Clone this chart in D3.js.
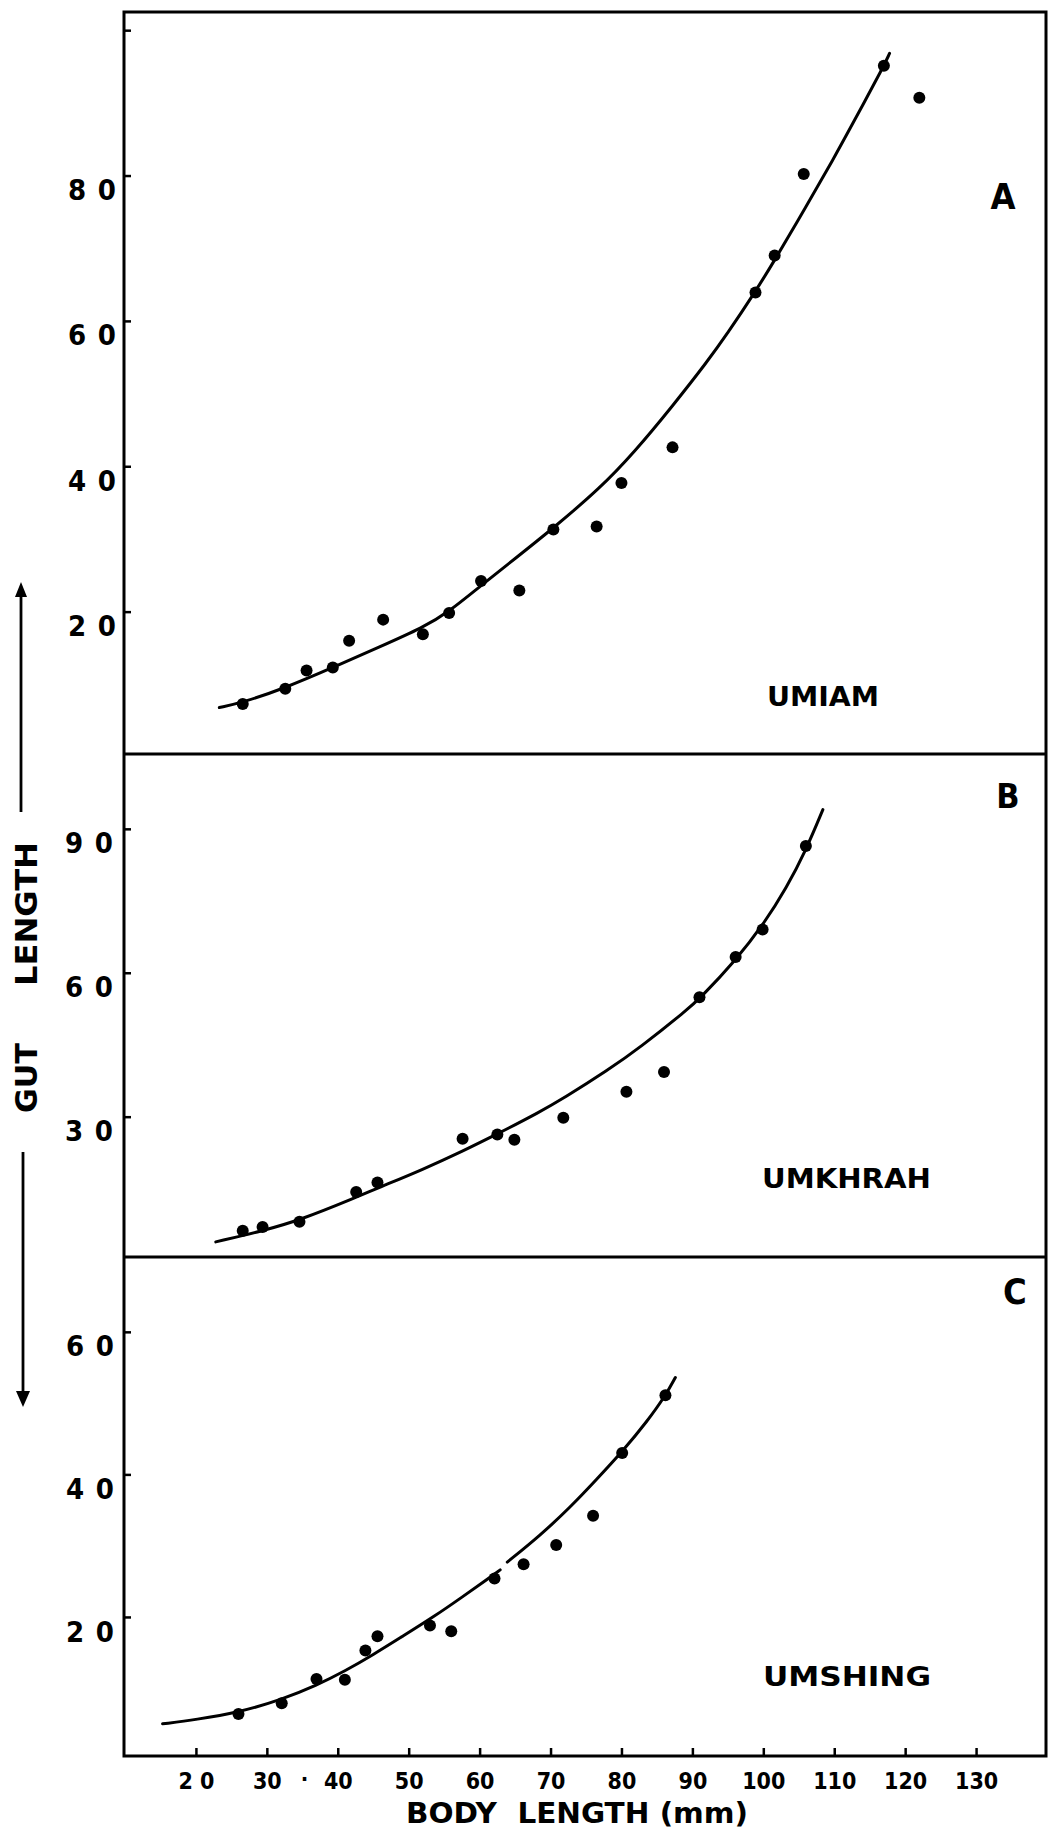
<!DOCTYPE html>
<html>
<head>
<meta charset="utf-8">
<script src="https://cdn.jsdelivr.net/npm/d3@7"></script>
<style>
  body { margin: 0; background: #fff; }
  svg text { font-family: "DejaVu Sans Condensed", "DejaVu Sans", sans-serif; font-weight: bold; fill: #000; }
</style>
</head>
<body>
<svg id="chart" width="1050" height="1834"></svg>
<script>
// ---------------- DATA ----------------
const xTicks = [20, 30, 40, 50, 60, 70, 80, 90, 100, 110, 120, 130];
const xTickLabels = ["2 0", "30", "40", "50", "60", "70", "80", "90", "100", "110", "120", "130"];

// Panel A : UMIAM
const umiamYTicks = [20, 40, 60, 80, 100];
const umiamYTickLabels = ["2 0", "4 0", "6 0", "8 0", ""];
const umiamPoints = [
  [26.6, 7.3], [32.6, 9.4], [35.6, 11.9], [39.3, 12.3], [41.6, 16.0], [46.4, 18.9],
  [52.0, 16.9], [55.7, 19.8], [60.2, 24.2], [65.6, 22.9], [70.4, 31.3], [76.5, 31.7],
  [80.0, 37.7], [87.2, 42.6], [98.9, 63.9], [101.6, 69.0], [105.7, 80.2], [117.0, 95.1],
  [122.0, 90.7]
];
const umiamCurve = [
  [23.3, 6.8], [26.6, 7.5], [32.6, 9.5], [39.3, 12.3], [46.0, 15.2], [52.0, 17.8],
  [55.7, 20.0], [60.2, 23.6], [65.0, 27.3], [70.4, 31.5], [77.0, 37.0], [81.7, 41.8],
  [87.3, 48.4], [92.1, 54.4], [94.9, 58.2], [98.8, 63.9], [101.7, 68.5], [106.2, 76.0],
  [109.9, 82.3], [112.7, 87.3], [117.0, 95.1], [117.8, 96.8]
];

// Panel B : UMKHRAH
const umkhrahYTicks = [30, 60, 90];
const umkhrahYTickLabels = ["3 0", "6 0", "9 0"];
const umkhrahPoints = [
  [26.6, 6.2], [29.4, 7.0], [34.6, 8.1], [42.6, 14.3], [45.6, 16.3], [57.6, 25.4],
  [62.5, 26.3], [64.9, 25.2], [71.8, 29.8], [80.7, 35.2], [86.0, 39.3], [91.0, 54.9],
  [96.1, 63.3], [99.9, 69.0], [106.0, 86.4]
];
const umkhrahCurve = [
  [22.8, 3.9], [29.4, 6.2], [34.6, 8.4], [42.6, 13.2], [45.6, 15.1], [52.0, 19.0],
  [57.6, 22.8], [62.5, 26.4], [68.5, 31.0], [71.8, 33.8], [78.0, 39.6], [82.7, 44.5],
  [89.2, 52.2], [91.1, 54.7], [96.1, 62.6], [100.0, 70.0], [103.3, 77.8], [106.0, 85.5],
  [108.4, 94.0]
];

// Panel C : UMSHING
const umshingYTicks = [20, 40, 60];
const umshingYTickLabels = ["2 0", "4 0", "6 0"];
const umshingPoints = [
  [26.0, 6.4], [32.1, 7.9], [37.0, 11.3], [41.0, 11.2], [43.9, 15.3], [45.6, 17.3],
  [53.0, 18.8], [56.0, 18.0], [62.1, 25.4], [66.2, 27.4], [70.8, 30.1], [76.0, 34.2],
  [80.1, 43.0], [86.2, 51.1]
];
const umshingCurveLower = [
  [15.3, 5.0], [20.0, 5.6], [26.0, 6.6], [32.1, 8.4], [37.0, 10.4], [41.0, 12.4],
  [45.0, 14.7], [49.0, 17.2], [53.5, 20.0], [57.7, 22.9], [60.8, 25.1], [62.9, 26.6]
];
const umshingCurveUpper = [
  [63.9, 27.7], [68.5, 31.4], [72.8, 35.4], [76.5, 39.3], [80.2, 43.3], [83.6, 47.4],
  [86.3, 51.2], [87.6, 53.6]
];

const panelLetters = ["A", "B", "C"];
const panelNames = ["UMIAM", "UMKHRAH", "UMSHING"];
const xTitle = "BODY  LENGTH (mm)";
const yTitleParts = ["GUT", "LENGTH"];

// ---------------- LAYOUT ----------------
const svg = d3.select("#chart");
const frame = { left: 124, right: 1046, top: 12, bottom: 1756 };
const dividers = [754, 1257];

const x = d3.scaleLinear().domain([10, 140]).range([125, 1047]);

const panels = [
  { y: d3.scaleLinear().domain([0, 102.5]).range([757, 12]), ticks: umiamYTicks, labels: umiamYTickLabels,
    points: umiamPoints, curves: [umiamCurve], letter: panelLetters[0], name: panelNames[0],
    letterPos: [1003, 209, 36], namePos: [767, 706, 112], labelEnd: 116 },
  { y: d3.scaleLinear().domain([0, 105.6]).range([1260.6, 754]), ticks: umkhrahYTicks, labels: umkhrahYTickLabels,
    points: umkhrahPoints, curves: [umkhrahCurve], letter: panelLetters[1], name: panelNames[1],
    letterPos: [1008, 808, 34], namePos: [762, 1188, 169], labelEnd: 113 },
  { y: d3.scaleLinear().domain([0, 70.5]).range([1759.5, 1257]), ticks: umshingYTicks, labels: umshingYTickLabels,
    points: umshingPoints, curves: [umshingCurveLower, umshingCurveUpper], letter: panelLetters[2], name: panelNames[2],
    letterPos: [1015, 1304, 36], namePos: [763, 1686, 168], labelEnd: 114 }
];

// frame
svg.append("rect")
  .attr("x", frame.left).attr("y", frame.top)
  .attr("width", frame.right - frame.left).attr("height", frame.bottom - frame.top)
  .attr("fill", "none").attr("stroke", "#000").attr("stroke-width", 3);
dividers.forEach(d => {
  svg.append("line").attr("x1", frame.left).attr("x2", frame.right)
    .attr("y1", d).attr("y2", d).attr("stroke", "#000").attr("stroke-width", 3);
});

panels.forEach(p => {
  const g = svg.append("g");
  // y axis ticks (inward) + labels
  const ax = g.append("g").attr("transform", `translate(${frame.left},0)`)
    .call(d3.axisLeft(p.y).tickValues(p.ticks).tickSizeInner(-7).tickSizeOuter(0)
      .tickPadding(frame.left - p.labelEnd)
      .tickFormat((d, i) => p.labels[i]));
  ax.select(".domain").remove();
  ax.selectAll(".tick line").attr("stroke", "#000").attr("stroke-width", 2.5);
  ax.selectAll(".tick text")
    .attr("font-size", 29).attr("font-family", null)
    .attr("dy", "0.83em")
    .each(function () {
      const t = d3.select(this);
      if (t.text().length) t.attr("textLength", 48).attr("lengthAdjust", "spacing");
    });

  const line = d3.line().x(d => x(d[0])).y(d => p.y(d[1])).curve(d3.curveBasis);
  p.curves.forEach(c => {
    g.append("path").datum(c).attr("d", line)
      .attr("fill", "none").attr("stroke", "#000").attr("stroke-width", 3)
      .attr("stroke-linecap", "round");
  });
  g.selectAll("circle.pt").data(p.points).enter().append("circle")
    .attr("class", "pt")
    .attr("cx", d => x(d[0])).attr("cy", d => p.y(d[1])).attr("r", 6).attr("fill", "#000");

  g.append("text").attr("x", p.letterPos[0]).attr("y", p.letterPos[1])
    .attr("text-anchor", "middle").attr("font-size", p.letterPos[2]).text(p.letter);
  g.append("text").attr("x", p.namePos[0]).attr("y", p.namePos[1])
    .attr("font-size", 27).attr("textLength", p.namePos[2]).attr("lengthAdjust", "spacingAndGlyphs")
    .text(p.name);
});

// x axis at the bottom of panel C
const xAx = svg.append("g").attr("transform", `translate(0,${frame.bottom})`)
  .call(d3.axisBottom(x).tickValues(xTicks).tickSizeInner(-8).tickSizeOuter(0).tickPadding(17)
    .tickFormat((d, i) => xTickLabels[i]));
xAx.select(".domain").remove();
xAx.selectAll(".tick line").attr("stroke", "#000").attr("stroke-width", 2.5);
xAx.selectAll(".tick text").attr("font-size", 23).attr("font-family", null);
svg.append("text").attr("x", x(35.3)).attr("y", 1786).attr("text-anchor", "middle")
  .attr("font-size", 22).text("·");

// x title
svg.append("text").attr("x", 406).attr("y", 1823).attr("font-size", 29)
  .attr("textLength", 342).attr("lengthAdjust", "spacingAndGlyphs")
  .style("white-space", "pre").text(xTitle);

// y title (rotated) with arrows
svg.append("text").attr("transform", "translate(37,914) rotate(-90)")
  .attr("text-anchor", "middle").attr("font-size", 31)
  .attr("textLength", 144).attr("lengthAdjust", "spacingAndGlyphs").text(yTitleParts[1]);
svg.append("text").attr("transform", "translate(37,1078) rotate(-90)")
  .attr("text-anchor", "middle").attr("font-size", 31)
  .attr("textLength", 70).attr("lengthAdjust", "spacingAndGlyphs").text(yTitleParts[0]);

svg.append("line").attr("x1", 21).attr("x2", 21).attr("y1", 812).attr("y2", 594)
  .attr("stroke", "#000").attr("stroke-width", 2.8);
svg.append("path").attr("d", "M21,582 L15,597 L27,597 Z").attr("fill", "#000");
svg.append("line").attr("x1", 23).attr("x2", 23).attr("y1", 1152).attr("y2", 1395)
  .attr("stroke", "#000").attr("stroke-width", 2.8);
svg.append("path").attr("d", "M23,1407 L16,1391 L30,1391 Z").attr("fill", "#000");
</script>
</body>
</html>
